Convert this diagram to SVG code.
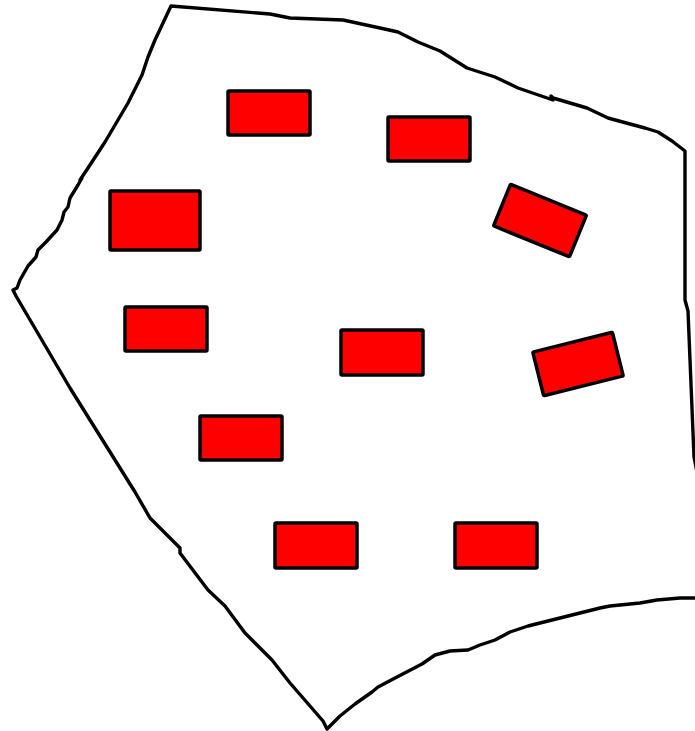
<svg xmlns="http://www.w3.org/2000/svg" width="695" height="731" viewBox="0 0 695 731">
<style>
.outline{fill:none;stroke:#000;stroke-width:3.4;stroke-linejoin:round;stroke-linecap:round}
.box{fill:#ff0000;stroke:#000;stroke-width:3.5;stroke-linejoin:round}
</style>
<rect width="695" height="731" fill="#fff"/>
<g id="outline">
<path class="outline" d="M697,472 L694,457 L688,311 L685,300 L685,151 L672,141 L658,132 L645,128 L630,124 L608,118 L587,108 L553,98 L551,96 L553,100 L518,88 L495,77 L467,68 L440,51 L418,42 L398,32 L380,28 L343,20 L290,18 L270,14 L171,6 L155,40 L148,57 L142,75 L128,103 L105,142 L88,168 L80,180 L82,178 L78,185 L70,198 L68,207 L64,212 L62,220 L57,230 L46,242 L38,250 L36,257 L28,266 L20,280 L17,288 L13,290 L16,296 L70,388 L135,492 L150,518 L180,548 L180,553 L208,590 L225,606 L245,633 L272,660 L290,683 L310,706 L323,721 L327,729 L340,716 L355,704 L372,692 L378,687 L397,677 L422,664 L435,655 L450,651 L468,650 L480,645 L495,640 L510,632 L528,626 L560,618 L580,613 L600,608 L610,606 L640,603 L657,600 L680,598 L700,598"/>
</g>
<g id="boxes">
<rect id="b1" class="box" x="228" y="91" width="82" height="44" rx="1"/>
<rect id="b2" class="box" x="110" y="191" width="90" height="59" rx="1"/>
<rect id="b3" class="box" x="388" y="117" width="82" height="44" rx="1"/>
<rect id="b4" class="box" x="125" y="307" width="82" height="44" rx="1"/>
<rect id="b5" class="box" x="200" y="416" width="82" height="44" rx="1"/>
<rect id="b6" class="box" x="275" y="523" width="82" height="45" rx="1"/>
<rect id="b7" class="box" x="341" y="330" width="82" height="45" rx="1"/>
<rect id="b8" class="box" x="455" y="523" width="82" height="45" rx="1"/>
<rect id="b9" class="box" x="-41" y="-22.5" width="82" height="45" rx="1" transform="translate(540,220.5) rotate(22.2)"/>
<rect id="b10" class="box" x="-41" y="-22.5" width="82" height="45" rx="1" transform="translate(578,364) rotate(-14)"/>
</g>
</svg>
